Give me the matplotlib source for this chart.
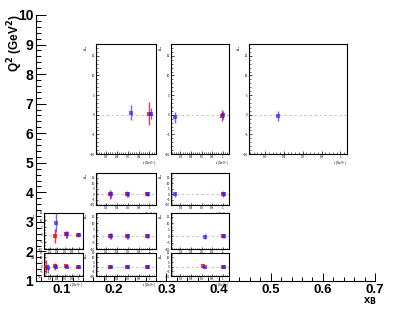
import matplotlib
matplotlib.use("Agg")
import matplotlib.pyplot as plt
from matplotlib.ticker import MultipleLocator

W, H = 399, 309
plt.rcParams['font.family'] = ['Liberation Sans', 'DejaVu Sans']

# main grid axes
xb_major = [0.1, 0.2, 0.3, 0.4, 0.5, 0.6, 0.7]
q2_major = [1, 2, 3, 4, 5, 6, 7, 8, 9, 10]

# panel data: red and blue series per kinematic bin (t in GeV^2, asymmetry value, error)
red_t = {"A": [1.00], "B": [0.98], "C": [],
         "D": [0.27, 0.58, 0.95], "E": [1.00],
         "F": [0.33, 0.63, 0.98], "G": [0.27, 0.58, 0.95], "H": [1.00],
         "I": [0.09, 0.33, 0.63, 0.98], "J": [0.27, 0.58, 0.95], "K": [0.63, 1.00]}
red_y = {"A": [0.3], "B": [-0.2], "C": [],
         "D": [-0.3, 0.0, 0.0], "E": [-0.3],
         "F": [-0.8, 0.25, 0.0], "G": [0.0, 0.0, 0.0], "H": [0.25],
         "I": [0.0, 0.3, 0.3, 0.0], "J": [0.0, 0.1, 0.0], "K": [0.2, 0.0]}
red_e = {"A": [2.9], "B": [1.4], "C": [],
         "D": [4.0, 2.8, 2.0], "E": [2.6],
         "F": [4.8, 2.5, 1.3], "G": [2.3, 2.0, 1.3], "H": [1.5],
         "I": [6.7, 3.8, 1.9, 1.2], "J": [1.4, 1.2, 1.0], "K": [1.6, 1.2]}
blue_t = {"A": [0.67, 1.03], "B": [0.10, 1.01], "C": [0.34],
          "D": [0.30, 0.61, 0.98], "E": [0.10, 1.03],
          "F": [0.36, 0.67, 1.01], "G": [0.30, 0.61, 0.98], "H": [0.66, 1.03],
          "I": [0.12, 0.36, 0.66, 1.01], "J": [0.30, 0.61, 0.98], "K": [0.66, 1.03]}
blue_y = {"A": [0.5, 0.2], "B": [-0.7, 0.0], "C": [-0.35],
          "D": [-0.3, -0.2, 0.0], "E": [-0.4, 0.0],
          "F": [8.0, 0.2, 0.0], "G": [0.0, 0.0, 0.0], "H": [-0.4, 0.0],
          "I": [-1.9, 0.0, 0.0, 0.0], "J": [-0.2, 0.0, 0.0], "K": [0.0, 0.0]}
blue_e = {"A": [1.9, 1.4], "B": [1.4, 1.0], "C": [1.27],
          "D": [3.4, 2.2, 1.5], "E": [1.9, 1.7],
          "F": [6.5, 2.3, 1.0], "G": [2.3, 2.0, 1.2], "H": [1.9, 1.2],
          "I": [5.0, 1.5, 1.0, 0.8], "J": [1.3, 1.1, 0.9], "K": [1.2, 1.0]}

# pixel boxes of the inset pads (left, top, right, bottom) and their y range top
pads = {"A": (96, 44, 156, 154, 18), "B": (171, 44, 229, 154, 18), "C": (249, 44, 347, 154, 18),
        "D": (96, 172.7, 156, 205, 19.4), "E": (171, 172.7, 229, 205, 19.4),
        "F": (44, 212.7, 83, 249.3, 14.7), "G": (96, 212.7, 156, 249.3, 18),
        "H": (171, 212.7, 229, 249.3, 18),
        "I": (44, 252.7, 83, 276, 13.8), "J": (96, 252.7, 156, 276, 15),
        "K": (171, 252.7, 229, 276, 15)}

fig = plt.figure(figsize=(W / 100, H / 100), dpi=100)
fig.patch.set_facecolor("white")


def pix_axes(x0, y0, x1, y1):
    return fig.add_axes([x0 / W, 1 - y1 / H, (x1 - x0) / W, (y1 - y0) / H])


ax = pix_axes(36, 15, 375, 281)
ax.set_xlim(0.05, 0.7)
ax.set_ylim(1, 10)
for s in ("top", "right"):
    ax.spines[s].set_visible(False)
for s in ("left", "bottom"):
    ax.spines[s].set_linewidth(0.8)
ax.set_xticks(xb_major)
ax.set_xticklabels([f"{v:.1f}" for v in xb_major])
ax.set_yticks(q2_major)
ax.set_yticklabels([str(v) for v in q2_major])
ax.xaxis.set_minor_locator(MultipleLocator(0.02))
ax.yaxis.set_minor_locator(MultipleLocator(0.2))
ax.tick_params(axis="y", which="major", direction="in", length=7.2, width=0.7, pad=2.0,
               labelsize=10)
ax.tick_params(axis="y", which="minor", direction="in", length=3.6, width=0.7)
ax.tick_params(axis="x", which="major", direction="in", length=5.8, width=0.7, pad=2.2,
               labelsize=9.5)
ax.tick_params(axis="x", which="minor", direction="in", length=2.9, width=0.7)
for lab in ax.get_xticklabels() + ax.get_yticklabels():
    lab.set_fontweight("bold")
ax.patch.set_alpha(0)

fig.text(15.5 / W, 1 - 14 / H, "Q$^{\\mathbf{2}}$ (GeV$^{\\mathbf{2}}$)", rotation=90,
         ha="center", va="top", fontsize=8.5, fontweight="bold")
fig.text(377 / W, 1 - 295 / H, "x$_{\\mathbf{B}}$", ha="right", va="top",
         fontsize=8, fontweight="bold")

RED = (1.0, 0.0, 0.0, 0.8)
BLUE = (0.15, 0.15, 1.0, 0.7)

for key, (x0, y0, x1, y1, ytop) in pads.items():
    big = key in ("A", "B", "C")
    pa = pix_axes(x0, y0, x1, y1)
    xmax = 1.07 if key == "C" else 1.12
    xmin = 0.03 if key == "C" else 0.02
    pa.set_xlim(xmin, xmax)
    pa.set_ylim(-10, ytop)
    pa.axhline(0, color="#bbbbbb", lw=0.6, ls=(0, (3, 3)), zorder=1)
    if red_t[key]:
        pa.errorbar(red_t[key], red_y[key], yerr=red_e[key], fmt="s", color=RED,
                    ms=2.2, mew=0, elinewidth=1.0, capsize=0.8, capthick=0.6, zorder=3)
    pa.errorbar(blue_t[key], blue_y[key], yerr=blue_e[key], fmt="s", color=BLUE,
                ms=2.2, mew=0, elinewidth=1.0, capsize=0.8, capthick=0.6, zorder=4)
    for s in pa.spines.values():
        s.set_linewidth(0.8)
    pa.set_xticks([0.2, 0.4, 0.6, 0.8, 1.0])
    pa.set_xticklabels(["0.2", "0.4", "0.6", "0.8", "1"])
    pa.set_yticks([-10, -5, 0, 5, 10, 15])
    pa.xaxis.set_minor_locator(MultipleLocator(0.04))
    pa.yaxis.set_minor_locator(MultipleLocator(1))
    pa.tick_params(which="major", direction="in", length=2.2 if big else 1.6, width=0.5,
                   labelsize=2.2, pad=0.8)
    pa.tick_params(which="minor", direction="in", length=1.1 if big else 0.8, width=0.4)
    pa.set_xlabel("-t (GeV$^2$)", fontsize=2.2, labelpad=0.2, loc="right")
    pa.set_ylabel("A$_{UL}$", fontsize=2.2, labelpad=0.2, loc="top")

fig.savefig("out.png", dpi=100, facecolor="white")
